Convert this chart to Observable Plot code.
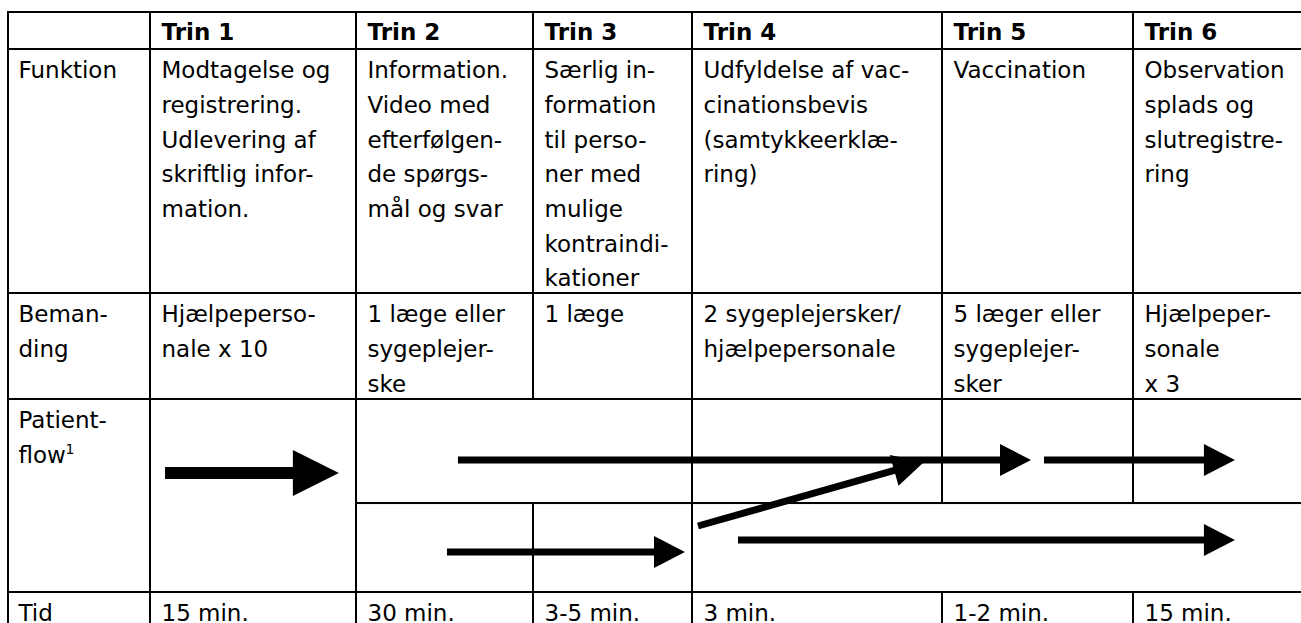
<!DOCTYPE html>
<html>
<head>
<meta charset="utf-8">
<script src="https://cdn.jsdelivr.net/npm/d3@7"></script>
<script src="https://cdn.jsdelivr.net/npm/@observablehq/plot@0.6"></script>
<style>
html, body { margin: 0; padding: 0; background: #fff; overflow: hidden; }
#chart svg { display: block; }
</style>
</head>
<body>
<div id="chart"></div>
<script>
// ---------- content ----------
const stages = ["Trin 1", "Trin 2", "Trin 3", "Trin 4", "Trin 5", "Trin 6"];
const rowLabels = ["Funktion", "Beman-\nding", "Patient-\nflow", "Tid"];
const footnoteMark = "1";
const funktion = [
  "Modtagelse og\nregistrering.\nUdlevering af\nskriftlig infor-\nmation.",
  "Information.\nVideo med\nefterfølgen-\nde spørgs-\nmål og svar",
  "Særlig in-\nformation\ntil perso-\nner med\nmulige\nkontraindi-\nkationer",
  "Udfyldelse af vac-\ncinationsbevis\n(samtykkeerklæ-\nring)",
  "Vaccination",
  "Observation\nsplads og\nslutregistre-\nring"
];
const bemanding = [
  "Hjælpeperso-\nnale x 10",
  "1 læge eller\nsygeplejer-\nske",
  "1 læge",
  "2 sygeplejersker/\nhjælpepersonale",
  "5 læger eller\nsygeplejer-\nsker",
  "Hjælpeper-\nsonale\nx 3"
];
const tid = ["15 min.", "30 min.", "3-5 min.", "3 min.", "1-2 min.", "15 min."];

// patient-flow arrows, in stage units (x) and row units (y)
const arrowFrom = [[1.073, 3.383], [2.576, 3.316], [4.024, 3.658], [5.534, 3.316], [2.514, 3.793], [4.184, 3.731]];
const arrowTo   = [[1.917, 3.383], [5.466, 3.316], [4.928, 3.326], [6.545, 3.316], [3.956, 3.793], [6.545, 3.731]];
const arrowKind = ["thick", "thin", "thin", "thin", "thin", "thin"];

// ---------- layout ----------
const colEdges = [8, 150, 356, 533, 692, 942, 1133, 1320];
const rowEdges = [12, 49, 293, 399, 592, 660];
const laneSplit = 3.539;
const arrowStyle = {
  thick: {shaft: 12, headLen: 46, headHalf: 23},
  thin:  {shaft: 7,  headLen: 31, headHalf: 16}
};
const FONT = "Verdana, 'DejaVu Sans', sans-serif";
const FS = 23;
const LH = 34.7 / FS;

// ---------- derived tables ----------
const cells = [];
for (const r of [0, 1, 2, 4]) for (let c = 0; c < 7; ++c) cells.push({x1: c, x2: c + 1, y1: r, y2: r + 1});
cells.push({x1: 0, x2: 1, y1: 3, y2: 4}, {x1: 1, x2: 2, y1: 3, y2: 4});
cells.push({x1: 2, x2: 4, y1: 3, y2: laneSplit}, {x1: 4, x2: 5, y1: 3, y2: laneSplit},
           {x1: 5, x2: 6, y1: 3, y2: laneSplit}, {x1: 6, x2: 7, y1: 3, y2: laneSplit});
cells.push({x1: 2, x2: 3, y1: laneSplit, y2: 4}, {x1: 3, x2: 4, y1: laneSplit, y2: 4},
           {x1: 4, x2: 7, y1: laneSplit, y2: 4});

const headerCells = stages.map((t, i) => ({t, c: i + 1, r: 0}));
const labelCells = rowLabels.map((t, i) => ({t, c: 0, r: [1, 2, 3, 4][i]}));
const bodyCells = [
  ...funktion.map((t, i) => ({t, c: i + 1, r: 1})),
  ...bemanding.map((t, i) => ({t, c: i + 1, r: 2})),
  ...tid.map((t, i) => ({t, c: i + 1, r: 4}))
];
const arrows = arrowFrom.map((f, i) => ({x1: f[0], y1: f[1], x2: arrowTo[i][0], y2: arrowTo[i][1], kind: arrowKind[i]}));

const textOpts = {
  x: "c", y: "r", text: "t", textAnchor: "start", lineAnchor: "top",
  fontSize: FS, fontFamily: FONT, lineHeight: LH, fill: "black", dx: 11, dy: 4
};

const chart = Plot.plot({
  width: 1301,
  height: 623,
  margin: 0,
  style: {background: "white", fontFamily: FONT},
  x: {type: "linear", domain: colEdges.map((_, i) => i), range: colEdges, axis: null},
  y: {type: "linear", domain: rowEdges.map((_, i) => i), range: rowEdges, axis: null},
  marks: [
    Plot.rect(cells, {x1: "x1", x2: "x2", y1: "y1", y2: "y2", fill: "none", stroke: "black", strokeWidth: 2}),
    Plot.text(headerCells, {...textOpts, fontWeight: "bold", dy: 3}),
    Plot.text(labelCells, {...textOpts, dx: 10}),
    // footnote marker after "flow"
    Plot.text([{t: footnoteMark, c: 0, r: 3}], {...textOpts, fontSize: 14, lineHeight: 1, dx: 57, dy: 45}),
    Plot.text(bodyCells, textOpts),
    Plot.link(arrows, {
      x1: "x1", y1: "y1", x2: "x2", y2: "y2", stroke: "black",
      render(index, scales, values) {
        const g = d3.create("svg:g");
        for (const i of index) {
          const X1 = values.x1[i], Y1 = values.y1[i], X2 = values.x2[i], Y2 = values.y2[i];
          const s = arrowStyle[arrows[i].kind];
          const len = Math.hypot(X2 - X1, Y2 - Y1);
          const ux = (X2 - X1) / len, uy = (Y2 - Y1) / len;
          const bx = X2 - ux * s.headLen, by = Y2 - uy * s.headLen;
          g.append("line")
            .attr("x1", X1).attr("y1", Y1)
            .attr("x2", bx + ux * 2).attr("y2", by + uy * 2)
            .attr("stroke", "black").attr("stroke-width", s.shaft);
          const px = -uy * s.headHalf, py = ux * s.headHalf;
          g.append("polygon")
            .attr("points", `${X2},${Y2} ${bx + px},${by + py} ${bx - px},${by - py}`)
            .attr("fill", "black");
        }
        return g.node();
      }
    })
  ]
});
document.getElementById("chart").appendChild(chart);
</script>
</body>
</html>
